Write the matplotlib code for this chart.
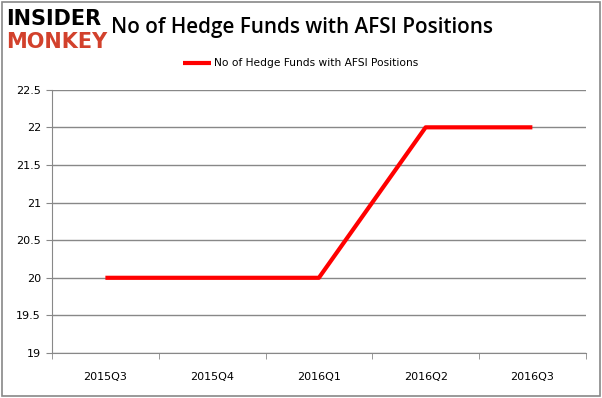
import matplotlib
matplotlib.use("Agg")
import matplotlib.pyplot as plt
from matplotlib.patches import Rectangle

# data
quarters = ["2015Q3", "2015Q4", "2016Q1", "2016Q2", "2016Q3"]
funds = [20, 20, 20, 22, 22]
yticks = [19, 19.5, 20, 20.5, 21, 21.5, 22, 22.5]
ytick_labels = ["19", "19.5", "20", "20.5", "21", "21.5", "22", "22.5"]

fig = plt.figure(figsize=(6.02, 3.98), dpi=100)
ax = fig.add_axes([0.0864, 0.113, 0.973 - 0.0864, 0.7746 - 0.113])

ax.plot(range(len(quarters)), funds, color="#ff0000", lw=3, solid_capstyle="butt",
        label="No of Hedge Funds with AFSI Positions")

ax.set_xlim(-0.5, len(quarters) - 0.5)
ax.set_ylim(19, 22.5)
ax.set_yticks(yticks)
ax.set_yticklabels(ytick_labels)
ax.set_xticks(range(len(quarters)))
ax.set_xticklabels(quarters)
ax.set_xticks([i - 0.5 for i in range(len(quarters) + 1)], minor=True)

ax.grid(axis="y", color="#888888", lw=1)
ax.set_axisbelow(True)
for s in ["top", "right"]:
    ax.spines[s].set_visible(False)
for s in ["left", "bottom"]:
    ax.spines[s].set_color("#888888")
ax.tick_params(axis="y", length=4, color="#888888", labelsize=8, pad=4)
ax.tick_params(axis="x", which="major", length=0, labelsize=8, pad=14)
ax.tick_params(axis="x", which="minor", length=4, color="#888888")

ax.legend(loc="center", bbox_to_anchor=(0.466, 1.10), frameon=False,
          fontsize=7.7, handlelength=2.6, handletextpad=0.3)

fig.text(0.501, 0.932, "No of Hedge Funds with AFSI Positions", ha="center", va="center",
         fontsize=14.9, family="Open Sans", weight="semibold")

# logo
fig.text(0.01, 0.952, "INSIDER", fontsize=15, weight="heavy", color="black",
         va="center", ha="left")
fig.text(0.01, 0.895, "MONKEY", fontsize=15, weight="heavy", color="#d2412c",
         va="center", ha="left")

fig.patches.append(Rectangle((0.003, 0.004), 0.994, 0.992, transform=fig.transFigure,
                             fill=False, edgecolor="#888888", lw=1.2))

fig.savefig("out.png", dpi=100)
